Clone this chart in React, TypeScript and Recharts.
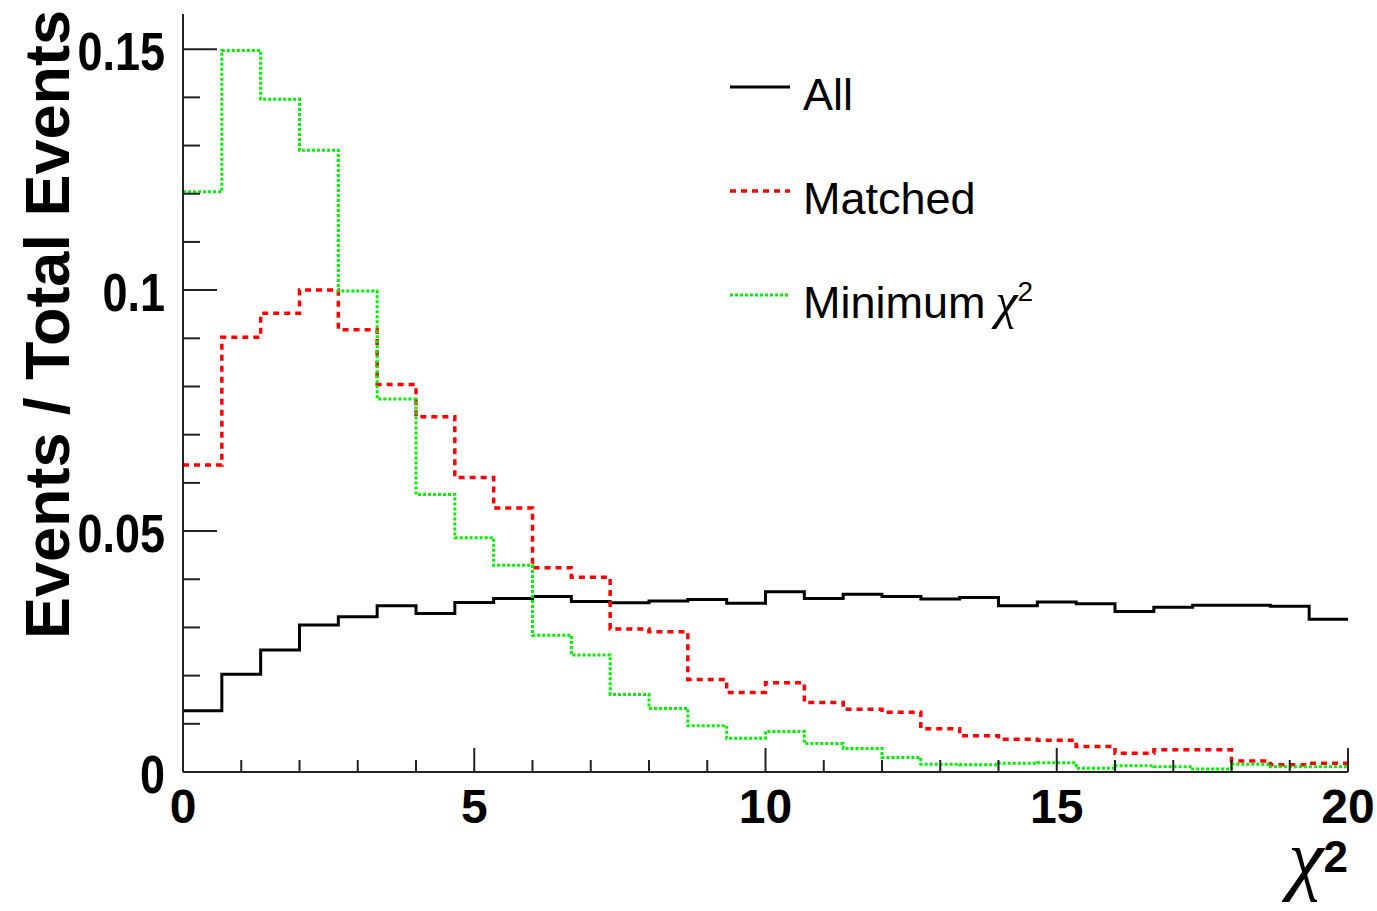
import React from 'react';
import { LineChart, Line, XAxis, YAxis, Legend } from 'recharts';

// 30 bins over chi2 = 0..20
const binCount = 30;
const xMax = 20;
const yMax = 0.1573;

const allEvents = [
  0.0127, 0.0203, 0.0253, 0.0305, 0.0322, 0.0345, 0.0329, 0.0352, 0.036, 0.0364,
  0.0354, 0.0351, 0.0355, 0.0358, 0.035, 0.0374, 0.036, 0.0369, 0.0364, 0.0359,
  0.0362, 0.0345, 0.0353, 0.0349, 0.0333, 0.0342, 0.0346, 0.0346, 0.0344, 0.0317,
];
const matchedEvents = [
  0.0637, 0.0902, 0.0952, 0.1, 0.0918, 0.0804, 0.0737, 0.0611, 0.0548, 0.0424,
  0.0404, 0.0297, 0.0291, 0.0192, 0.0165, 0.0185, 0.0144, 0.013, 0.0124, 0.009,
  0.0075, 0.0068, 0.0066, 0.0053, 0.0039, 0.0046, 0.0046, 0.0023, 0.0015, 0.0018,
];
const minChi2Events = [
  0.1204, 0.1497, 0.1396, 0.129, 0.0998, 0.0774, 0.0576, 0.0486, 0.0429, 0.0284,
  0.0243, 0.0161, 0.0132, 0.0096, 0.007, 0.0084, 0.0059, 0.0049, 0.003, 0.0016,
  0.0015, 0.0018, 0.0019, 0.0008, 0.0013, 0.0011, 0.0006, 0.0016, 0.0011, 0.0011,
];

const xTicks = [0, 1, 2, 3, 4, 5, 6, 7, 8, 9, 10, 11, 12, 13, 14, 15, 16, 17, 18, 19, 20];
const xLabels = [0, 5, 10, 15, 20];
const yTicks = [0, 0.01, 0.02, 0.03, 0.04, 0.05, 0.06, 0.07, 0.08, 0.09, 0.1, 0.11, 0.12, 0.13, 0.14, 0.15];
const yLabels = ['0', '0.05', '0.1', '0.15'];

const legendNames = ['All', 'Matched', 'Minimum'];

// step rows at bin low edges, plus the closing edge at x = 20
const data = Array.from({ length: binCount + 1 }, (_, i) => {
  const b = Math.min(i, binCount - 1);
  return {
    x: (i * xMax) / binCount,
    all: allEvents[b],
    matched: matchedEvents[b],
    minchi2: minChi2Events[b],
  };
});

const sans = '"Liberation Sans", Arial, Helvetica, sans-serif';
const serif = '"Liberation Serif", "DejaVu Serif", serif';

const styles = [
  { key: 'all', color: '#000000', dash: undefined as string | undefined, width: 3 },
  { key: 'matched', color: '#ff0000', dash: '6 5', width: 3.5 },
  { key: 'minchi2', color: '#00f000', dash: '3 2', width: 3 },
];

const XTick = (props: any) => {
  const { x, y, payload } = props;
  const v = payload.value;
  const major = xLabels.includes(v);
  return (
    <g>
      <line x1={x} y1={y} x2={x} y2={y - (major ? 24 : 12)} stroke="#222" strokeWidth={2} />
      {major && (
        <text x={x} y={y + 51} textAnchor="middle" fontSize={48} fontWeight="bold" fontFamily={sans} fill="#000">
          {v}
        </text>
      )}
    </g>
  );
};

const YTick = (props: any) => {
  const { x, y, payload } = props;
  const label = String(Number(payload.value.toFixed(2)));
  const major = yLabels.includes(label);
  const tx = x - 18;
  const ty = y + 21;
  return (
    <g>
      <line x1={x} y1={y} x2={x + (major ? 34 : 17)} y2={y} stroke="#222" strokeWidth={2} />
      {major && (
        <text
          x={tx}
          y={ty}
          transform={`translate(${tx} ${ty}) scale(0.9 1.06) translate(${-tx} ${-ty})`}
          textAnchor="end"
          fontSize={50}
          fontWeight="bold"
          fontFamily={sans}
          fill="#000"
        >
          {label}
        </text>
      )}
    </g>
  );
};

const YTitle = (props: any) => {
  const vb = props.viewBox || { x: 0, y: 14 };
  const tx = 69;
  const ty = vb.y - 4;
  return (
    <text
      x={tx}
      y={ty}
      transform={`rotate(-90 ${tx} ${ty})`}
      textAnchor="end"
      fontSize={63}
      fontWeight="bold"
      fontFamily={sans}
      fill="#000"
    >
      Events / Total Events
    </text>
  );
};

const XTitle = (props: any) => {
  const vb = props.viewBox || { x: 183, width: 1165 };
  return (
    <text x={vb.x + vb.width} y={885} textAnchor="end" fill="#000">
      <tspan fontFamily={serif} fontStyle="italic" fontSize={80}>χ</tspan>
      <tspan fontFamily={sans} fontWeight="bold" fontSize={44} dy={-13}>2</tspan>
    </text>
  );
};

const renderLegend = () => (
  <svg width={380} height={290}>
    {styles.map((s, i) => {
      const ly = 37 + i * 104;
      return (
        <g key={s.key}>
          <line x1={10} x2={70} y1={ly} y2={ly} stroke={s.color} strokeWidth={s.width} strokeDasharray={s.dash} />
          <text x={83} y={ly + 23} fontSize={45} fontFamily={sans} fill="#000">
            {legendNames[i]}
            {s.key === 'minchi2' && (
              <>
                <tspan fontFamily={serif} fontStyle="italic" fontSize={50} dx={10}>χ</tspan>
                <tspan fontSize={28} dy={-17}>2</tspan>
              </>
            )}
          </text>
        </g>
      );
    })}
  </svg>
);

export default function App() {
  return (
    <div style={{ width: 1377, height: 911, background: '#fff', position: 'relative' }}>
      <style>{'body{margin:0;background:#fff}'}</style>
      <LineChart width={1377} height={911} data={data} margin={{ top: 14, right: 29, left: 0, bottom: 0 }}>
        <XAxis
          xAxisId="bottom"
          dataKey="x"
          type="number"
          domain={[0, xMax]}
          ticks={xTicks}
          interval={0}
          height={139}
          tickSize={0}
          tickMargin={0}
          tick={<XTick />}
          axisLine={{ stroke: '#222', strokeWidth: 2 }}
          label={<XTitle />}
        />
        <XAxis
          xAxisId="top"
          orientation="top"
          dataKey="x"
          type="number"
          domain={[0, xMax]}
          height={0}
          tick={false}
          tickLine={false}
          axisLine={{ stroke: '#888', strokeWidth: 2 }}
        />
        <YAxis
          yAxisId="left"
          type="number"
          domain={[0, yMax]}
          allowDataOverflow
          ticks={yTicks}
          interval={0}
          width={183}
          tickSize={0}
          tickMargin={0}
          tick={<YTick />}
          axisLine={{ stroke: '#222', strokeWidth: 2 }}
          label={<YTitle />}
        />
        <YAxis
          yAxisId="right"
          orientation="right"
          type="number"
          domain={[0, yMax]}
          width={0}
          tick={false}
          tickLine={false}
          axisLine={{ stroke: '#888', strokeWidth: 2 }}
        />
        <Legend
          layout="vertical"
          align="center"
          verticalAlign="middle"
          content={renderLegend}
          wrapperStyle={{ position: 'absolute', left: 720, top: 50, width: 380, height: 290 }}
        />
        {styles.map((s, i) => (
          <Line
            key={s.key}
            xAxisId="bottom"
            yAxisId="left"
            type="stepAfter"
            dataKey={s.key}
            name={legendNames[i]}
            stroke={s.color}
            strokeWidth={s.width}
            strokeDasharray={s.dash}
            dot={false}
            activeDot={false}
            isAnimationActive={false}
          />
        ))}
      </LineChart>
    </div>
  );
}
